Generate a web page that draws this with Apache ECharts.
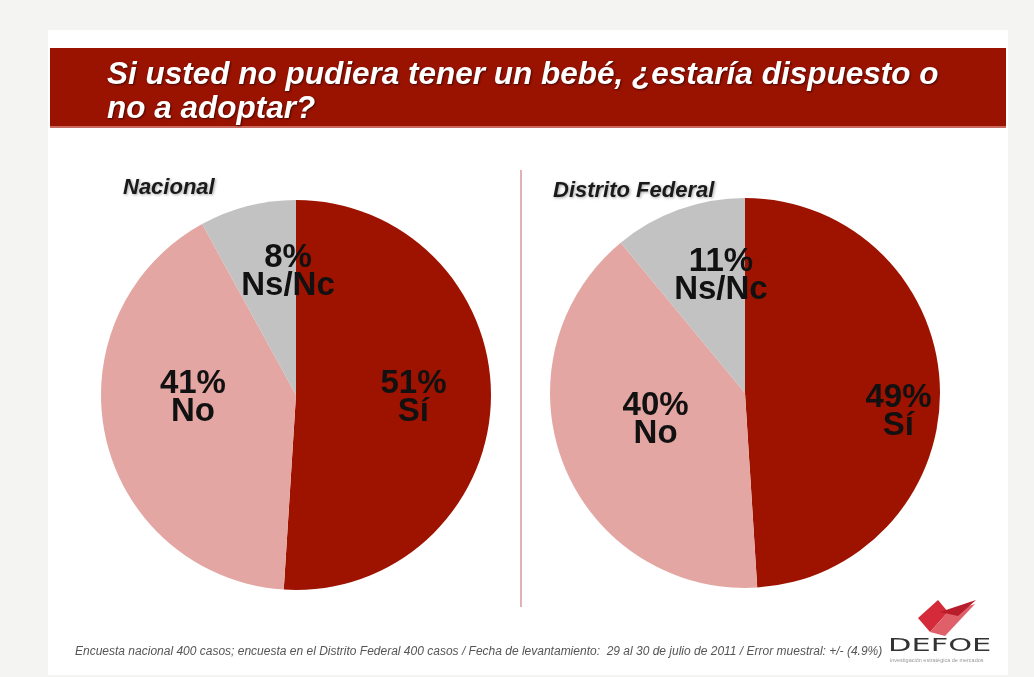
<!DOCTYPE html>
<html>
<head>
<meta charset="utf-8">
<script src="https://cdn.jsdelivr.net/npm/echarts@6/dist/echarts.min.js"></script>
<style>
html,body{margin:0;padding:0;background:#f4f4f2;}
#chart{width:1034px;height:677px;}
</style>
</head>
<body>
<div id="chart"></div>
<script>
// ---- data ----
var categories = ['Sí', 'No', 'Ns/Nc'];
var nacionalValues = [51, 41, 8];
var dfValues = [49, 40, 11];
var panelTitles = ['Nacional', 'Distrito Federal'];
var titleLines = ['Si usted no pudiera tener un bebé, ¿estaría dispuesto o', 'no a adoptar?'];
var footerText = 'Encuesta nacional 400 casos; encuesta en el Distrito Federal 400 casos / Fecha de levantamiento:  29 al 30 de julio de 2011 / Error muestral: +/- (4.9%)';

// ---- styles ----
var sliceColors = ['#9e1300', '#e3a6a2', '#c2c2c2'];
var leftOffsets = [[17, 0], [-5, -19], [17, -26]];
var rightOffsets = [[53, 22], [4, -10], [10, -23]];
var FONT = 'Liberation Sans, Arial, sans-serif';

function buildData(values, offsets) {
  return categories.map(function (name, i) {
    return {
      name: name,
      value: values[i],
      itemStyle: { color: sliceColors[i] },
      label: { offset: offsets[i] }
    };
  });
}

var labelStyle = {
  show: true,
  position: 'inside',
  formatter: '{c}%\n{b}',
  fontFamily: FONT,
  fontWeight: 'bold',
  fontSize: 33,
  lineHeight: 28,
  color: '#111',
  align: 'center'
};

function titleText(txt, y) {
  return {
    type: 'text', x: 107, y: y, z: 2,
    style: {
      text: txt, fill: '#ffffff', fontFamily: FONT,
      fontWeight: 'bold', fontStyle: 'italic', fontSize: 31.5, verticalAlign: 'middle',
      textShadowColor: 'rgba(0,0,0,0.55)', textShadowBlur: 2, textShadowOffsetX: 1, textShadowOffsetY: 1
    }
  };
}

function panelText(txt, x, y) {
  return {
    type: 'text', x: x, y: y, z: 2,
    style: {
      text: txt, fill: '#1a1a1a', fontFamily: FONT,
      fontWeight: 'bold', fontStyle: 'italic', fontSize: 22, verticalAlign: 'middle',
      textShadowColor: 'rgba(0,0,0,0.35)', textShadowBlur: 3, textShadowOffsetX: 1, textShadowOffsetY: 1
    }
  };
}

var chart = echarts.init(document.getElementById('chart'), null, { renderer: 'canvas' });

var option = {
  backgroundColor: '#f4f4f2',
  animation: false,
  graphic: [
    { type: 'rect', shape: { x: 48, y: 30, width: 960, height: 645 }, style: { fill: '#ffffff' }, z: -10 },
    { type: 'rect', shape: { x: 50, y: 48, width: 956, height: 80 }, style: { fill: '#9a1200' }, z: 1 },
    { type: 'rect', shape: { x: 50, y: 126, width: 956, height: 2 }, style: { fill: '#c86a60' }, z: 1 },
    titleText(titleLines[0], 75),
    titleText(titleLines[1], 109),
    panelText(panelTitles[0], 123, 188),
    panelText(panelTitles[1], 553, 191),
    { type: 'line', shape: { x1: 521, y1: 170, x2: 521, y2: 607 }, style: { stroke: '#d49a98', lineWidth: 1.5 }, z: 2 },
    {
      type: 'text', x: 75, y: 652, z: 2,
      style: {
        text: footerText, fill: '#555555', fontFamily: FONT,
        fontStyle: 'italic', fontSize: 12, verticalAlign: 'middle'
      }
    },
    // logo mark
    { type: 'polygon', shape: { points: [[918, 618], [938, 600], [948, 612], [930, 632]] }, style: { fill: '#d42a3a' }, z: 2 },
    { type: 'polygon', shape: { points: [[930, 632], [948, 612], [975, 604], [960, 620], [945, 636]] }, style: { fill: '#e0606a' }, z: 2 },
    { type: 'polygon', shape: { points: [[940, 612], [976, 600], [958, 616]] }, style: { fill: '#b81d2c' }, z: 2 },
    {
      type: 'text', x: 888, y: 647, z: 2, scaleX: 1.79,
      style: {
        text: 'DEFOE', fill: '#333333', fontFamily: 'DejaVu Sans, sans-serif',
        fontSize: 17, verticalAlign: 'middle'
      }
    },
    {
      type: 'text', x: 890, y: 660, z: 2,
      style: {
        text: 'investigación estratégica de mercados', fill: '#999999', fontFamily: FONT,
        fontSize: 5.5, verticalAlign: 'middle'
      }
    }
  ],
  series: [
    {
      type: 'pie',
      center: [296, 395],
      radius: [0, 195],
      startAngle: 90,
      clockwise: true,
      label: labelStyle,
      labelLine: { show: false },
      emphasis: { disabled: true },
      data: buildData(nacionalValues, leftOffsets)
    },
    {
      type: 'pie',
      center: [745, 393],
      radius: [0, 195],
      startAngle: 90,
      clockwise: true,
      label: labelStyle,
      labelLine: { show: false },
      emphasis: { disabled: true },
      data: buildData(dfValues, rightOffsets)
    }
  ]
};

chart.setOption(option);
</script>
</body>
</html>
